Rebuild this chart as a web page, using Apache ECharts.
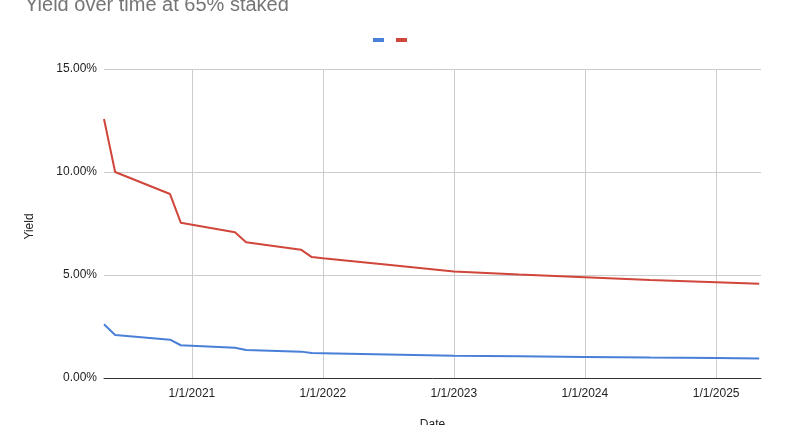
<!DOCTYPE html>
<html>
<head>
<meta charset="utf-8">
<script src="https://cdn.jsdelivr.net/npm/echarts@6/dist/echarts.min.js"></script>
<style>
html,body{margin:0;padding:0;background:#fff;}
#chart{width:785px;height:425px;}
</style>
</head>
<body>
<div id="chart"></div>
<script>
const titleText = 'Yield over time at 65% staked';
const xAxisName = 'Date';
const yAxisName = 'Yield';
const seriesNames = ['Series A', 'Series B'];
const dates = ['2020-05-01','2020-06-01','2020-11-01','2020-12-01','2021-05-01','2021-06-01','2021-11-01','2021-12-01','2022-01-01','2022-07-01','2023-01-01','2023-07-01','2024-01-01','2024-07-01','2025-01-01','2025-05-01'];
const blueValues = [2.61,2.09,1.86,1.59,1.47,1.36,1.28,1.21,1.20,1.14,1.08,1.05,1.02,0.99,0.97,0.95];
const redValues = [12.57,10.00,8.93,7.54,7.07,6.59,6.23,5.87,5.81,5.50,5.17,5.02,4.89,4.76,4.65,4.57];
const xMin = '2020-05-01';
const xMax = '2025-05-06';
const yTicks = [0, 5, 10, 15];

const chart = echarts.init(document.getElementById('chart'));
const font = 'Liberation Sans, Arial, sans-serif';
function toPairs(vals){ return dates.map((d,i)=>[d, vals[i]]); }
chart.setOption({
  animation: false,
  textStyle: {fontFamily: font},
  title: {
    text: titleText, left: 20, top: -10,
    textStyle: {fontFamily: font, fontSize: 20, fontWeight: 'normal', color: '#757575'}
  },
  legend: {
    left: 368, top: 33, itemWidth: 11, itemHeight: 4, itemGap: 12, icon: 'rect',
    formatter: () => '',
    data: [seriesNames[0], seriesNames[1]]
  },
  grid: {left: 104, right: 24, top: 69, bottom: 47, containLabel: false, outerBoundsMode: 'none'},
  xAxis: {
    type: 'time', min: xMin, max: xMax, splitNumber: 5,
    name: xAxisName, nameLocation: 'middle', nameGap: 41,
    nameTextStyle: {fontFamily: font, fontSize: 12, color: '#222'},
    axisLine: {show: true, lineStyle: {color: '#333', width: 1}},
    axisTick: {show: false},
    minorTick: {show: false},
    axisLabel: {
      fontFamily: font, fontSize: 12, color: '#222', margin: 10,
      formatter: function (v) { const d = new Date(v); return (d.getMonth()+1) + '/' + d.getDate() + '/' + d.getFullYear(); }
    },
    splitLine: {show: true, showMinLine: false, showMaxLine: false, lineStyle: {color: '#cccccc', width: 1}}
  },
  yAxis: {
    type: 'value', min: yTicks[0], max: yTicks[yTicks.length-1], interval: 5,
    name: yAxisName, nameLocation: 'middle', nameGap: 68, nameRotate: 90,
    nameTextStyle: {fontFamily: font, fontSize: 12, color: '#222', padding: [0, 6, 0, 0]},
    axisLine: {show: false}, axisTick: {show: false},
    axisLabel: {fontFamily: font, fontSize: 12, color: '#222', margin: 7, formatter: v => v.toFixed(2) + '%'},
    splitLine: {lineStyle: {color: '#cccccc', width: 1}}
  },
  series: [
    {name: seriesNames[0], type: 'line', data: toPairs(blueValues), showSymbol: false, symbol: 'none',
     lineStyle: {color: '#4a7fd8', width: 2}, itemStyle: {color: '#4a7fd8'}},
    {name: seriesNames[1], type: 'line', data: toPairs(redValues), showSymbol: false, symbol: 'none',
     lineStyle: {color: '#d0463a', width: 2}, itemStyle: {color: '#d0463a'}}
  ]
});
</script>
</body>
</html>
